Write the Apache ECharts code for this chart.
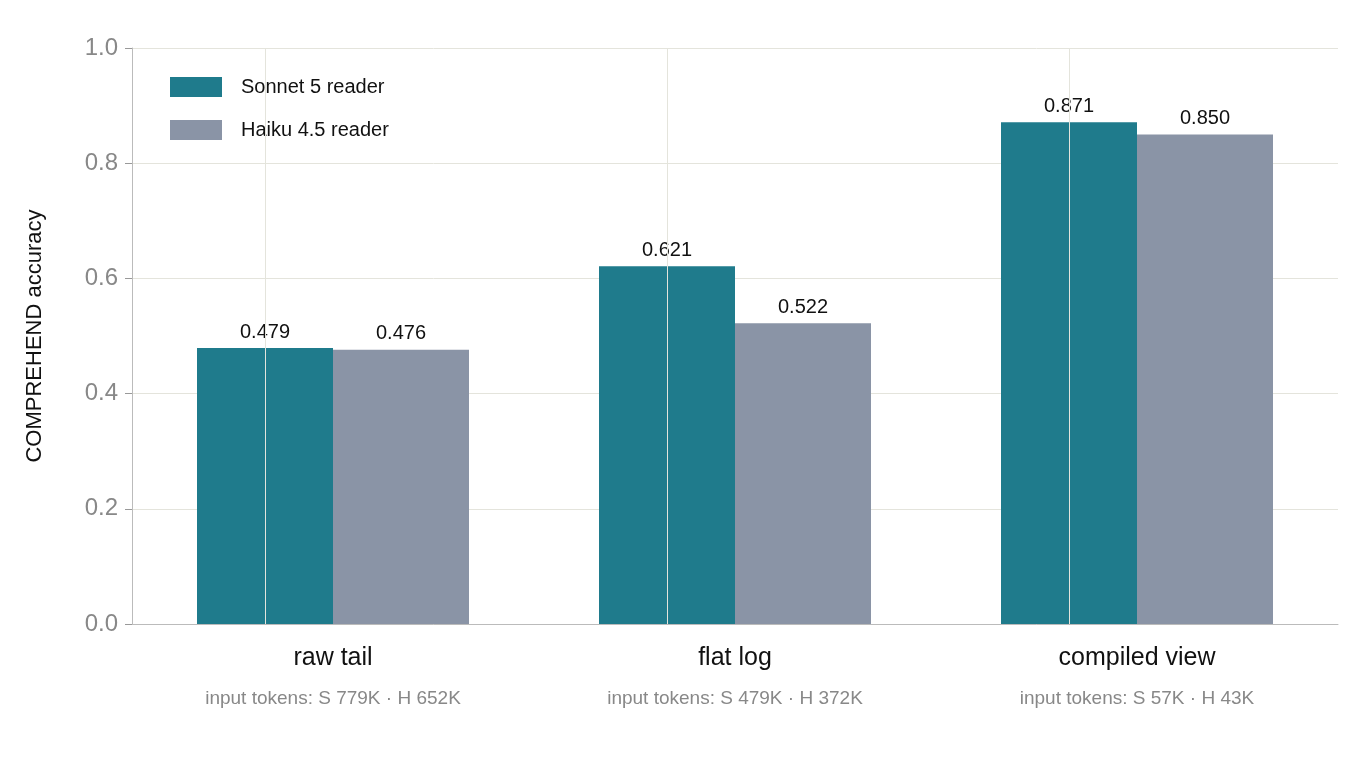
<!DOCTYPE html><html><head><meta charset="utf-8"><script src="https://cdn.jsdelivr.net/npm/echarts@6/dist/echarts.min.js"></script></head><body style="margin:0;background:#fff"><div id="c" style="width:1360px;height:780px"></div><script>
const categories=['raw tail','flat log','compiled view'];
const subLabels=['input tokens: S 779K · H 652K','input tokens: S 479K · H 372K','input tokens: S 57K · H 43K'];
const sonnet=[0.479,0.621,0.871];
const haiku=[0.476,0.522,0.850];
const yTicks=[0,0.2,0.4,0.6,0.8,1.0];
const ch=echarts.init(document.getElementById('c'));
const ff='Liberation Sans, Arial, sans-serif';
const lbl={show:true,position:'top',distance:6,fontSize:20,color:'#111',fontFamily:ff,formatter:p=>p.value.toFixed(3)};
ch.setOption({
 textStyle:{fontFamily:ff},
 legend:{left:165,top:72,orient:'vertical',itemWidth:52,itemHeight:20,itemGap:23,icon:'rect',textStyle:{fontSize:20,color:'#111',padding:[0,0,0,14]},data:['Sonnet 5 reader','Haiku 4.5 reader']},
 grid:{left:132,right:22,top:48,bottom:156},
 xAxis:{type:'category',data:categories,axisLine:{show:true,lineStyle:{color:'#bbb'}},axisTick:{alignWithLabel:true,length:8,lineStyle:{color:'#999'}},
  splitLine:{show:false},
  axisLabel:{margin:14,formatter:(v,i)=>'{a|'+v+'}\n{b|'+subLabels[i]+'}',rich:{a:{fontSize:25,color:'#111',lineHeight:40,fontFamily:ff},b:{fontSize:19,color:'#888',lineHeight:42,fontFamily:ff}}}},
 yAxis:{type:'value',min:0,max:1,interval:0.2,name:'COMPREHEND accuracy',nameLocation:'middle',nameGap:86,nameTextStyle:{fontSize:22,color:'#111'},
  axisLine:{show:true,lineStyle:{color:'#bbb'}},axisTick:{show:true,length:7,lineStyle:{color:'#999'}},
  axisLabel:{fontSize:24,color:'#888',margin:14,formatter:v=>v.toFixed(1)},splitLine:{lineStyle:{color:'#e4e4dc'}}},
 series:[
  {name:'Sonnet 5 reader',type:'bar',data:sonnet,barWidth:136,barGap:'0%',itemStyle:{color:'#1f7b8c'},label:lbl,
   markLine:{silent:true,symbol:'none',label:{show:false},lineStyle:{color:'#e4e4dc',type:'solid',width:1},data:categories.map(c=>({xAxis:c}))}},
  {name:'Haiku 4.5 reader',type:'bar',data:haiku,barWidth:136,itemStyle:{color:'#8a94a6'},label:lbl}
 ]
});
</script></body></html>
